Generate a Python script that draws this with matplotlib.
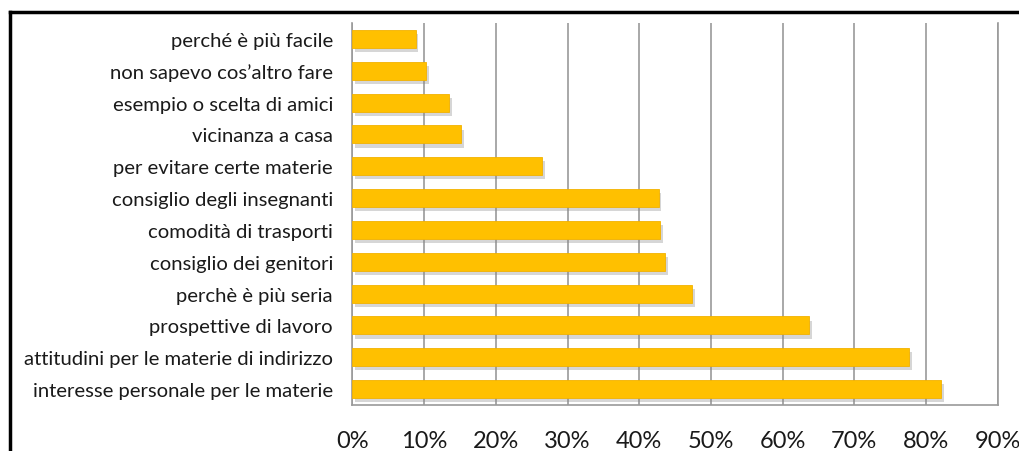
import matplotlib
matplotlib.use("Agg")
import matplotlib.pyplot as plt
import matplotlib.patheffects as pe
from matplotlib.ticker import FuncFormatter

categories = [
    "interesse personale per le materie",
    "attitudini per le materie di indirizzo",
    "prospettive di lavoro",
    "perchè è più seria",
    "consiglio dei genitori",
    "comodità di trasporti",
    "consiglio degli insegnanti",
    "per evitare certe materie",
    "vicinanza a casa",
    "esempio o scelta di amici",
    "non sapevo cos\u2019altro fare",
    "perché è più facile",
]
values = [82.1, 77.6, 63.7, 47.4, 43.6, 42.9, 42.7, 26.4, 15.1, 13.5, 10.3, 8.8]
x_ticks = [0, 10, 20, 30, 40, 50, 60, 70, 80, 90]

plt.rcParams['font.family'] = ['Lato', 'DejaVu Sans']

fig = plt.figure(figsize=(10.2, 4.52), dpi=100)
ax = fig.add_axes([352.5/1020, 1-406/452, (997.7-352.5)/1020, (406-24)/452])

ypos = list(range(len(categories)))
bars = ax.barh(ypos, values, height=0.57, color="#FFC000", edgecolor="#F2B200",
               linewidth=0.6, zorder=3)
for b in bars:
    b.set_path_effects([pe.SimplePatchShadow(offset=(2, -3), shadow_rgbFace="#8a8a8a", alpha=0.35),
                        pe.Normal()])

ax.set_xlim(0, 90)
ax.set_ylim(-0.5, len(categories) - 0.5)
ax.set_xticks(x_ticks)
ax.xaxis.set_major_formatter(FuncFormatter(lambda v, p: f"{int(v)}%"))
ax.set_yticks(ypos)
ax.set_yticklabels(categories)
ax.tick_params(axis='y', length=0, pad=14, labelsize=14.6, colors="#1a1a1a")
ax.tick_params(axis='x', length=0, pad=18, labelsize=17, colors="#1a1a1a")
ax.grid(axis='x', color="#9a9a9a", linewidth=1.2, zorder=0)
ax.spines['top'].set_visible(False)
for s in ['left', 'bottom', 'right']:
    ax.spines[s].set_color("#9a9a9a")
    ax.spines[s].set_linewidth(1.2)

# outer frame (left and top edges visible)
fig.add_artist(plt.Line2D([10/1020, 10/1020], [0, 1-13/452], transform=fig.transFigure,
                          color="black", linewidth=2.5))
fig.add_artist(plt.Line2D([10/1020, 1], [1-13/452, 1-13/452], transform=fig.transFigure,
                          color="black", linewidth=2.5))

fig.savefig("out.png", dpi=100)
